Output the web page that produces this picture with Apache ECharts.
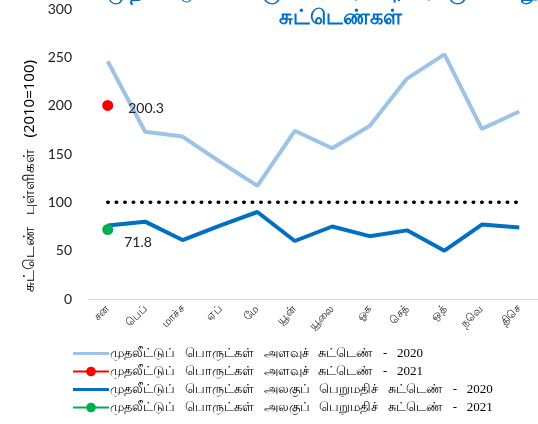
<!DOCTYPE html>
<html><head><meta charset="utf-8">
<script src="https://cdn.jsdelivr.net/npm/echarts@6/dist/echarts.min.js"></script>
<style>html,body{margin:0;padding:0;background:#fff}#c{width:538px;height:424px}</style>
</head><body><div id="c"></div>
<script>
const months = ["சன","பெப்","மாச்ச","ஏப்","மே","யூன்","யூலை","ஓக","செத்","ஒத்","நவெ","திசெ"];
const volume2020 = [246,173,168,142,117,174,156,179,228,253,176,194];
const volume2021 = [200.3];
const unitValue2020 = [76,80,61,76,90,60,75,65,71,50,77,74];
const unitValue2021 = [71.8];
const baseline = [100,100,100,100,100,100,100,100,100,100,100,100];
const seriesNames = [
  "முதலீட்டுப்   பொருட்கள்   அளவுச்   சுட்டெண்   -   2020",
  "முதலீட்டுப்   பொருட்கள்   அளவுச்   சுட்டெண்   -   2021",
  "முதலீட்டுப்   பொருட்கள்   அலகுப்   பெறுமதிச்   சுட்டெண்   -   2020",
  "முதலீட்டுப்   பொருட்கள்   அலகுப்   பெறுமதிச்   சுட்டெண்   -   2021"
];
const titleLine1 = "முதலீட்டுப் பொருட்கள் அளவு, அலகுப் பெறுமதி";
const titleLine2 = "சுட்டெண்கள்";
const yTitle = "சுட்டெண்   புள்ளிகள்   (2010=100)";

const lineIcon = 'path://M0,0 L0.01,0 L0.01,0.01 Z M0,4.5 L36,4.5 L36,7.5 L0,7.5 Z M35.99,12 L36,12 L36,11.99 Z';

const chart = echarts.init(document.getElementById('c'), null, {renderer:'canvas'});
chart.setOption({
  animation:false,
  backgroundColor:'#fff',
  grid:{left:89,right:-3,top:9,bottom:125},
  xAxis:{type:'category',data:months,boundaryGap:true,
    axisLine:{lineStyle:{color:'#d9d9d9',width:1}},axisTick:{show:false},
    axisLabel:{rotate:45,color:'#222',fontSize:11,margin:8,fontFamily:'Noto Sans, sans-serif'}},
  yAxis:{type:'value',min:0,max:300,interval:50,
    splitLine:{show:false},axisLine:{show:false},axisTick:{show:false},
    axisLabel:{color:'#222',fontSize:14,margin:17,fontFamily:'Lato, sans-serif'}},
  legend:{orient:'vertical',left:67,top:342,itemWidth:36,itemHeight:12,itemGap:5,
    textStyle:{fontSize:13,color:'#000',fontFamily:'Liberation Serif, serif',padding:[0,0,0,-4]},
    data:[
      {name:seriesNames[0],icon:lineIcon},
      {name:seriesNames[1]},
      {name:seriesNames[2],icon:lineIcon},
      {name:seriesNames[3]}
    ]},
  graphic:[
    {type:'text',x:340,y:-8,silent:true,style:{text:titleLine1,fill:'#0070C0',font:'bold 21px "Noto Sans", sans-serif',align:'center',verticalAlign:'middle'}},
    {type:'text',x:340,y:18,silent:true,style:{text:titleLine2,fill:'#0070C0',font:'bold 21px "Noto Sans", sans-serif',align:'center',verticalAlign:'middle'}},
    {type:'text',x:30,y:176,rotation:Math.PI/2,silent:true,style:{text:yTitle,fill:'#000',font:'15px "Noto Sans", sans-serif',align:'center',verticalAlign:'middle'}}
  ],
  series:[
    {name:seriesNames[0],type:'line',data:volume2020,symbol:'none',lineStyle:{color:'#9DC3E6',width:4},itemStyle:{color:'#9DC3E6'},z:2},
    {name:seriesNames[1],type:'line',data:volume2021,symbol:'circle',symbolSize:11,lineStyle:{color:'#FF0000',width:4},itemStyle:{color:'#FF0000'},
      label:{show:true,position:'right',distance:15,offset:[0,3],color:'#222',fontSize:14,fontFamily:'Lato, sans-serif',formatter:p=>p.value.toFixed(1)},z:4},
    {name:seriesNames[2],type:'line',data:unitValue2020,symbol:'none',lineStyle:{color:'#0070C0',width:4},itemStyle:{color:'#0070C0'},z:3},
    {name:seriesNames[3],type:'line',data:unitValue2021,symbol:'circle',symbolSize:11,lineStyle:{color:'#00B050',width:4},itemStyle:{color:'#00B050'},
      label:{show:true,position:'right',distance:11,offset:[0,13],color:'#222',fontSize:14,fontFamily:'Lato, sans-serif',formatter:p=>p.value.toFixed(1)},z:4},
    {name:'base',type:'line',data:baseline,symbol:'none',silent:true,
      lineStyle:{color:'#000',width:3.5,type:[0.5,8],cap:'round'},z:1}
  ]
});
</script></body></html>
